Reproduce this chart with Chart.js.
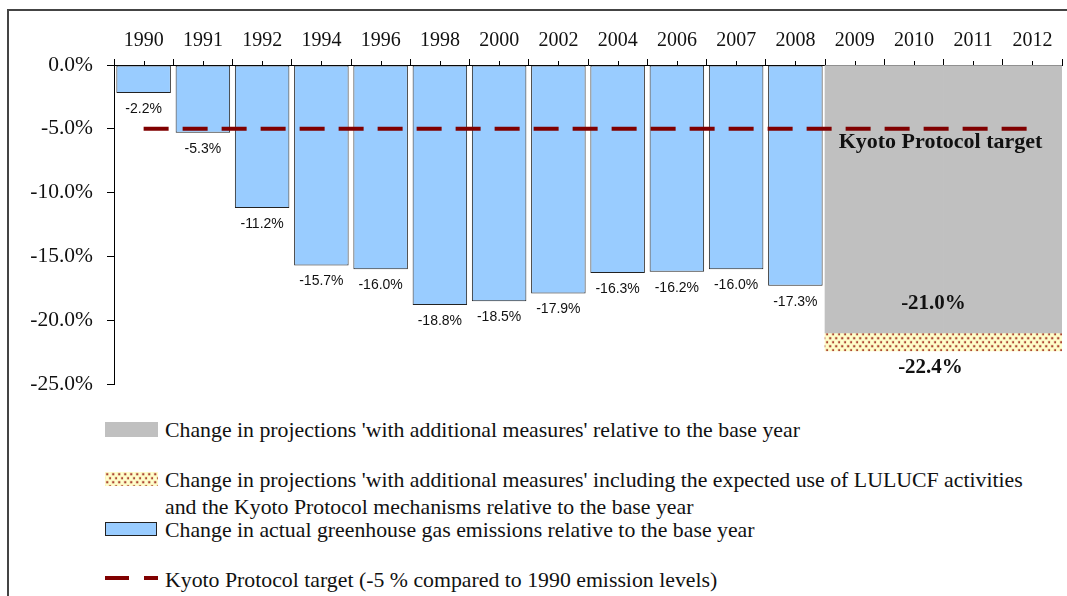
<!DOCTYPE html>
<html>
<head>
<meta charset="utf-8">
<script src="https://cdn.jsdelivr.net/npm/chart.js@4.4.1/dist/chart.umd.min.js"></script>
<style>
  html, body { margin: 0; padding: 0; background: #fff; }
  body { width: 1067px; height: 596px; position: relative; overflow: hidden; }
  #frame { position: absolute; left: 7px; top: 9px; width: 1070px; height: 600px;
           border-left: 2px solid #444; border-top: 2px solid #444; }
  #wrap { position: absolute; left: 0; top: 0; width: 1067px; height: 411px; }
  .legend-text { position: absolute; left: 165px; font-family: "Liberation Serif", "Times New Roman", serif;
                 font-size: 21.8px; line-height: 27px; color: #111; white-space: nowrap; }
  .sw { position: absolute; left: 105px; }
</style>
</head>
<body>
<div id="frame"></div>
<div id="wrap"><canvas id="c" width="1067" height="411"></canvas></div>

<div class="sw" id="swGray" style="top:422px;width:53px;height:15px;background:#C0C0C0;"></div>
<div class="legend-text" style="top:417px;">Change in projections 'with additional measures' relative to the base year</div>

<canvas class="sw" id="swDots" width="53" height="14" style="top:472px;"></canvas>
<div class="legend-text" style="top:467px;">Change in projections 'with additional measures' including the expected use of LULUCF activities<br>and the Kyoto Protocol mechanisms relative to the base year</div>

<div class="sw" style="top:522px;width:50px;height:12px;background:#99CCFF;border:1.5px solid #222;"></div>
<div class="legend-text" style="top:517px;">Change in actual greenhouse gas emissions relative to the base year</div>

<div class="sw" style="top:576px;width:24px;height:4px;background:#800000;"></div>
<div class="sw" style="left:144px;top:576px;width:14px;height:4px;background:#800000;"></div>
<div class="legend-text" style="top:567px;">Kyoto Protocol target (-5 % compared to 1990 emission levels)</div>

<script>
// Years shown along the top axis
const years = ['1990','1991','1992','1994','1996','1998','2000','2002','2004','2006','2007','2008','2009','2010','2011','2012'];
// Actual greenhouse gas emissions, % change relative to the base year
const actualChange = [-2.2, -5.3, -11.2, -15.7, -16.0, -18.8, -18.5, -17.9, -16.3, -16.2, -16.0, -17.3, null, null, null, null];
// Projection 'with additional measures' (2009-2012)
const projectionValue = -21.0;
// Projection including LULUCF activities and Kyoto mechanisms
const projectionWithMechanisms = -22.4;
// Kyoto Protocol target
const kyotoTarget = -5;
// Y-axis tick values
const yTicks = [0, -5, -10, -15, -20, -25];

const projYears = ['2009','2010','2011','2012'];
const projection = years.map(y => projYears.includes(y) ? projectionValue : null);
const projectionExtra = years.map(y => projYears.includes(y) ? [projectionValue, projectionWithMechanisms] : null);
const targetLine = years.map(() => kyotoTarget);

// Dotted fill used for the LULUCF / mechanisms band
function makeDotPattern(ctxTarget) {
  const p = document.createElement('canvas');
  p.width = 6; p.height = 8;
  const g = p.getContext('2d');
  g.fillStyle = '#FFFFCC';
  g.fillRect(0, 0, 6, 8);
  g.fillStyle = 'rgba(176, 70, 50, 0.18)';
  g.fillRect(0.5, 0.5, 3, 3);
  g.fillRect(3.5, 4.5, 3, 3);
  g.fillRect(-2.5, 4.5, 3, 3);
  g.fillStyle = 'rgba(160, 45, 30, 0.85)';
  g.fillRect(1.25, 1.25, 2, 2);
  g.fillRect(4.25, 5.25, 2, 2);
  return ctxTarget.createPattern(p, 'repeat');
}
const chartCanvas = document.getElementById('c');
const dotPattern = makeDotPattern(chartCanvas.getContext('2d'));
(function drawLegendDots() {
  const cv = document.getElementById('swDots');
  const g = cv.getContext('2d');
  g.fillStyle = makeDotPattern(g);
  g.fillRect(0, 0, cv.width, cv.height);
})();

const serif = '"Liberation Serif", "Times New Roman", serif';
const sans = '"Liberation Sans", Arial, sans-serif';

// Short tick marks at the centre of each year column on the top axis
const minorTicks = {
  id: 'minorTicks',
  afterDraw(chart) {
    const xs = chart.scales.x, ctx = chart.ctx;
    ctx.save();
    ctx.strokeStyle = '#000';
    ctx.lineWidth = 1;
    for (let i = 0; i < years.length; i++) {
      const x = Math.round(xs.getPixelForValue(i)) + 0.5;
      ctx.beginPath();
      ctx.moveTo(x, xs.bottom - 4);
      ctx.lineTo(x, xs.bottom);
      ctx.stroke();
    }
    ctx.restore();
  }
};

// Value labels under bars and the annotations in the projection block
const valueLabels = {
  id: 'valueLabels',
  afterDatasetsDraw(chart) {
    const ctx = chart.ctx;
    ctx.save();
    ctx.textAlign = 'center';
    ctx.textBaseline = 'middle';
    ctx.fillStyle = '#111';
    ctx.font = '14px ' + sans;
    const actualMeta = chart.getDatasetMeta(0);
    actualMeta.data.forEach((bar, i) => {
      const v = actualChange[i];
      if (v === null) return;
      ctx.fillText(v.toFixed(1) + '%', bar.x, bar.y + 16);
    });

    const projMeta = chart.getDatasetMeta(1);
    const extraMeta = chart.getDatasetMeta(2);
    const idx = years.map((y, i) => projYears.includes(y) ? i : -1).filter(i => i >= 0);
    const first = projMeta.data[idx[0]], last = projMeta.data[idx[idx.length - 1]];
    const cx = (first.x + last.x) / 2;
    ctx.font = 'bold 21px ' + serif;
    ctx.fillText(projectionValue.toFixed(1) + '%', cx - 10, first.y - 29);
    const extra = extraMeta.data[idx[0]];
    ctx.fillText(projectionWithMechanisms.toFixed(1) + '%', cx - 13, extra.y + 17);

    const yTarget = chart.scales.y.getPixelForValue(kyotoTarget);
    ctx.font = 'bold 22px ' + serif;
    ctx.fillText('Kyoto Protocol target', cx - 3, yTarget + 13);
    ctx.restore();
  }
};

new Chart(chartCanvas, {
  data: {
    labels: years,
    datasets: [
      {
        type: 'bar', label: 'actual', data: actualChange, grouped: false, order: 2,
        backgroundColor: '#99CCFF', borderColor: '#222', borderWidth: 1, borderSkipped: false,
        barPercentage: 0.92, categoryPercentage: 1
      },
      {
        type: 'bar', label: 'projection', data: projection, grouped: false, order: 3,
        backgroundColor: '#C0C0C0', borderWidth: 0,
        barPercentage: 1, categoryPercentage: 1
      },
      {
        type: 'bar', label: 'projection with mechanisms', data: projectionExtra, grouped: false, order: 3,
        backgroundColor: dotPattern, borderWidth: 0,
        barPercentage: 1, categoryPercentage: 1
      },
      {
        type: 'line', label: 'target', data: targetLine, order: 0,
        borderColor: '#800000', borderWidth: 4, borderDash: [25, 14],
        pointRadius: 0, fill: false, tension: 0
      }
    ]
  },
  options: {
    responsive: false,
    animation: false,
    events: [],
    layout: { padding: { left: 0, right: 5, top: 0, bottom: 7 } },
    plugins: { legend: { display: false }, tooltip: { enabled: false } },
    scales: {
      x: {
        position: 'top',
        offset: true,
        grid: { offset: true, drawOnChartArea: false, drawTicks: true, tickLength: 6, color: '#000' },
        border: { display: true, color: '#000', width: 1 },
        ticks: { color: '#111', font: { family: serif, size: 20 }, padding: 6, maxRotation: 0, autoSkip: false },
        afterFit(scale) { scale.height = 65; }
      },
      y: {
        min: -25, max: 0,
        afterBuildTicks(scale) { scale.ticks = yTicks.map(v => ({ value: v })); },
        grid: { drawOnChartArea: false, drawTicks: true, tickLength: 7, color: '#000' },
        border: { display: true, color: '#000', width: 1 },
        ticks: {
          color: '#111', font: { family: serif, size: 21.5 }, padding: 14,
          callback: v => v.toFixed(1) + '%'
        },
        afterFit(scale) { scale.width = 114; }
      }
    }
  },
  plugins: [minorTicks, valueLabels]
});
</script>
</body>
</html>
